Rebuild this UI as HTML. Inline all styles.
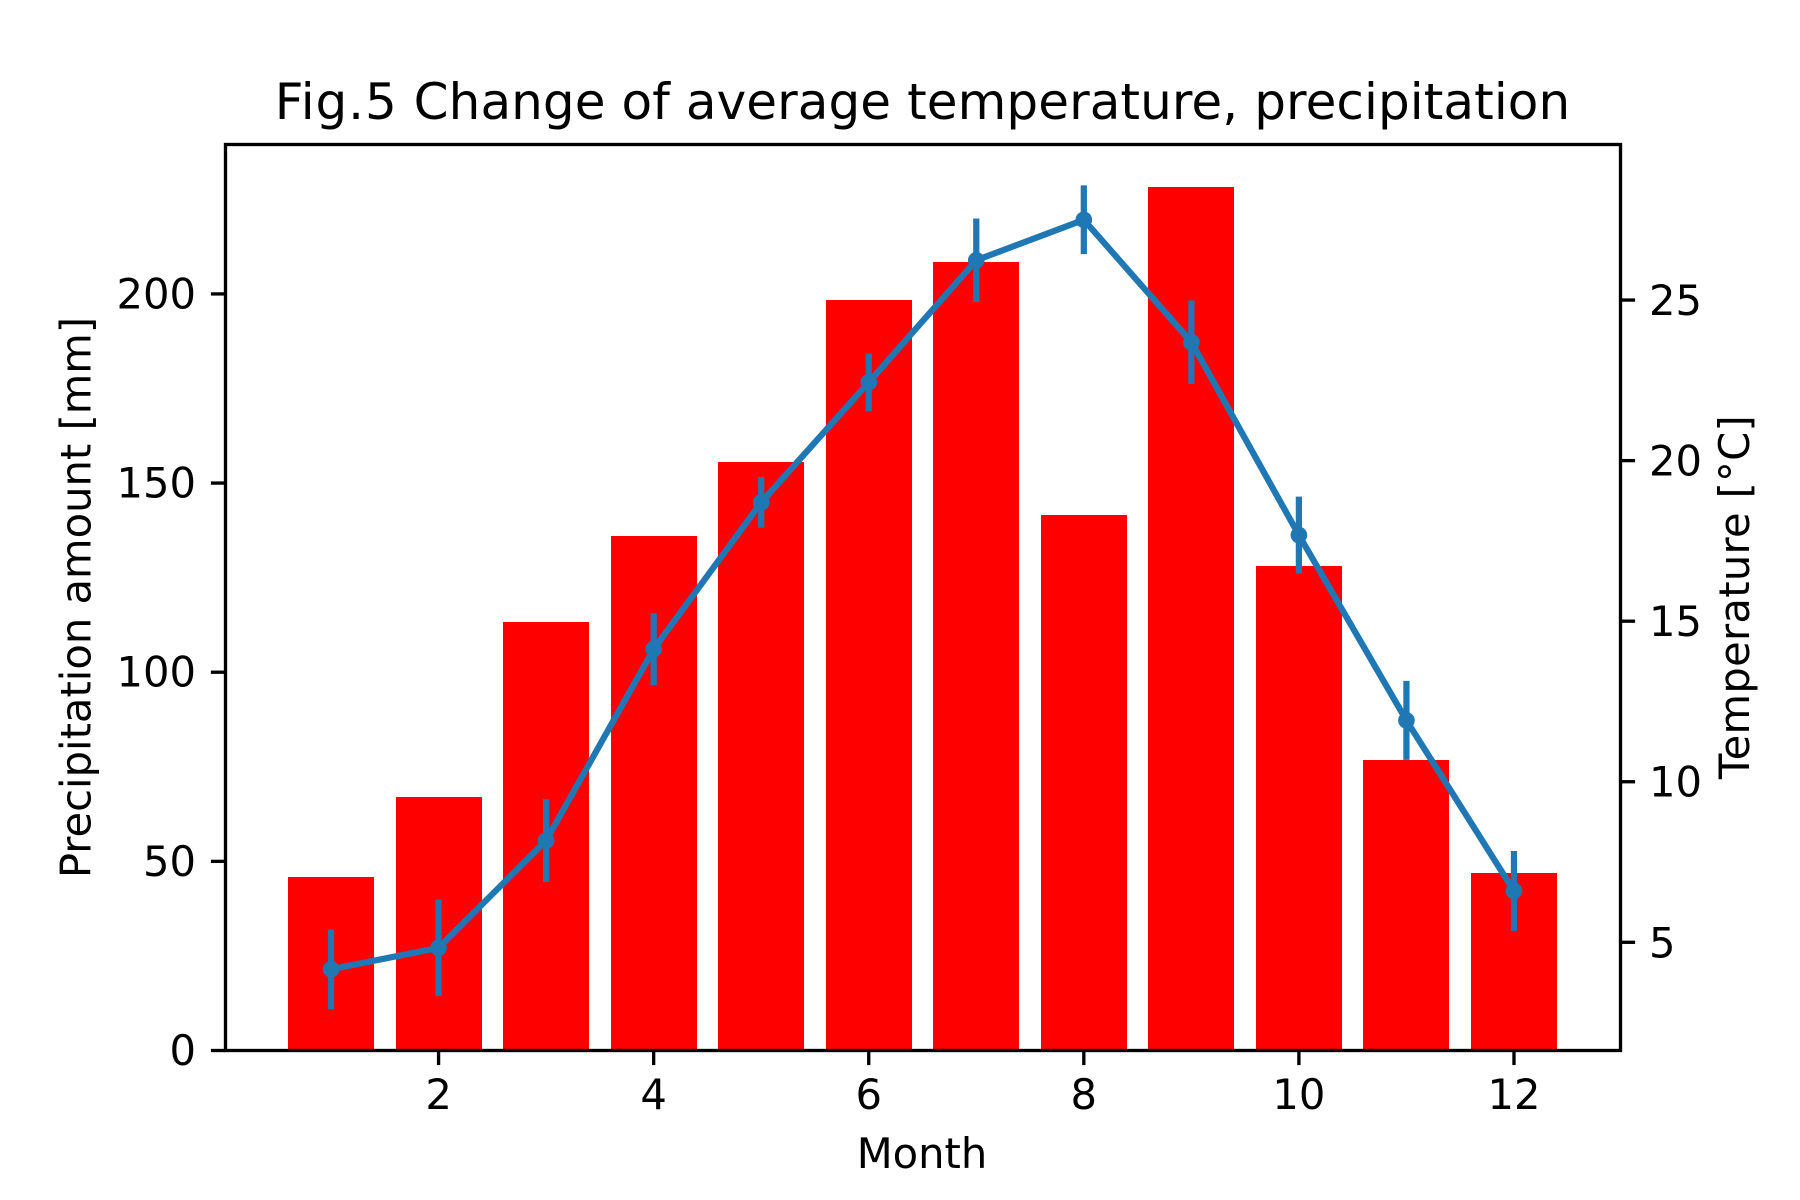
<!DOCTYPE html>
<html lang="en">
<head>
<meta charset="utf-8">
<title>Fig.5 Change of average temperature, precipitation</title>
<style>
  html, body { margin: 0; padding: 0; background: #fff; }
  svg { display: block; }
  text { font-family: "DejaVu Sans", "Liberation Sans", sans-serif; fill: #000; }
</style>
</head>
<body>
<svg id="chart" xmlns="http://www.w3.org/2000/svg" width="1800" height="1200" viewBox="0 0 1800 1200">
  <rect x="0" y="0" width="1800" height="1200" fill="#fff"/>
  <g id="bars"></g>
  <g id="errors"></g>
  <path id="line" fill="none" stroke="#1f77b4" stroke-width="6.25" stroke-linejoin="round"/>
  <g id="markers"></g>
  <rect x="225.5" y="144.5" width="1395" height="906" fill="none" stroke="#000" stroke-width="3.33"/>
  <g id="x-ticks"></g>
  <g id="left-ticks"></g>
  <g id="right-ticks"></g>
  <text x="922.5" y="119" font-size="50" text-anchor="middle"><tspan letter-spacing="0.9">Fig.5</tspan><tspan letter-spacing="0.08"> Change of average temperature, precipitation</tspan></text>
  <text x="922" y="1168" font-size="41.67" text-anchor="middle">Month</text>
  <text transform="translate(90.5,597.5) rotate(-90)" font-size="41.67" text-anchor="middle">Precipitation amount [mm]</text>
  <text transform="translate(1749,597) rotate(-90)" font-size="41.67" text-anchor="middle" letter-spacing="0.29">Temperature [°C]</text>
</svg>
<script>
const months = [1, 2, 3, 4, 5, 6, 7, 8, 9, 10, 11, 12];
const precipitation = [45.7, 66.9, 113.1, 135.9, 155.4, 198.3, 208.3, 141.4, 228.1, 127.9, 76.7, 46.8];
const temperature = [4.16, 4.83, 8.17, 14.13, 18.7, 22.44, 26.24, 27.5, 23.69, 17.68, 11.91, 6.6];
const temperatureError = [1.24, 1.5, 1.29, 1.12, 0.79, 0.9, 1.3, 1.07, 1.3, 1.2, 1.23, 1.245];
const xTickLabels = [2, 4, 6, 8, 10, 12];
const leftTickLabels = [0, 50, 100, 150, 200];
const rightTickLabels = [5, 10, 15, 20, 25];
const xDomain = [0.01399, 12.98591];
const leftDomain = [0, 239.5];
const rightDomain = [1.646, 29.86];
const barWidth = 0.8;

const NS = 'http://www.w3.org/2000/svg';
const plot = { left: 225, right: 1620, top: 144, bottom: 1050 };

function xScale(v) {
  return plot.left + (v - xDomain[0]) / (xDomain[1] - xDomain[0]) * (plot.right - plot.left);
}
function leftScale(v) {
  return plot.bottom - (v - leftDomain[0]) / (leftDomain[1] - leftDomain[0]) * (plot.bottom - plot.top);
}
function rightScale(v) {
  return plot.bottom - (v - rightDomain[0]) / (rightDomain[1] - rightDomain[0]) * (plot.bottom - plot.top);
}
function make(tag, parentId) {
  const el = document.createElementNS(NS, tag);
  document.getElementById(parentId).appendChild(el);
  return el;
}
function tickLine(parentId, x1, y1, x2, y2) {
  const el = make('line', parentId);
  el.setAttribute('x1', x1);
  el.setAttribute('y1', y1);
  el.setAttribute('x2', x2);
  el.setAttribute('y2', y2);
  el.setAttribute('stroke', '#000');
  el.setAttribute('stroke-width', '3.33');
  return el;
}
function tickText(parentId, x, y, anchor, label) {
  const el = make('text', parentId);
  el.setAttribute('x', x);
  el.setAttribute('y', y);
  el.setAttribute('font-size', '41.67');
  el.setAttribute('text-anchor', anchor);
  el.textContent = label;
  return el;
}

months.forEach(function (m, i) {
  const rect = make('rect', 'bars');
  const x0 = Math.round(xScale(m - barWidth / 2));
  const x1 = Math.round(xScale(m + barWidth / 2));
  const top = Math.round(leftScale(precipitation[i]));
  rect.setAttribute('x', x0);
  rect.setAttribute('y', top);
  rect.setAttribute('width', x1 - x0);
  rect.setAttribute('height', leftScale(0) - top);
  rect.setAttribute('fill', '#ff0000');
  
  

  const err = make('line', 'errors');
  err.setAttribute('x1', xScale(m));
  err.setAttribute('x2', xScale(m));
  err.setAttribute('y1', rightScale(temperature[i] - temperatureError[i]));
  err.setAttribute('y2', rightScale(temperature[i] + temperatureError[i]));
  err.setAttribute('stroke', '#1f77b4');
  err.setAttribute('stroke-width', '6.25');
  
  

  const dot = make('circle', 'markers');
  dot.setAttribute('cx', xScale(m));
  dot.setAttribute('cy', rightScale(temperature[i]));
  dot.setAttribute('r', '8.33');
  dot.setAttribute('fill', '#1f77b4');
  
  
});

document.getElementById('line').setAttribute('d', months.map(function (m, i) {
  return (i ? 'L' : 'M') + xScale(m).toFixed(2) + ' ' + rightScale(temperature[i]).toFixed(2);
}).join(' '));

xTickLabels.forEach(function (v) {
  const x = xScale(v);
  const mark = tickLine('x-ticks', x, 1050.5, x, 1065.1);
  
  
  const label = tickText('x-ticks', x, 1109, 'middle', v);
  
  
});

leftTickLabels.forEach(function (v) {
  const y = leftScale(v) + 0.5;
  const mark = tickLine('left-ticks', 225.5, y, 210.9, y);
  
  
  const label = tickText('left-ticks', 196, y + 14.5, 'end', v);
  
  
});

rightTickLabels.forEach(function (v) {
  const y = rightScale(v);
  const mark = tickLine('right-ticks', 1620.5, y, 1635.1, y);
  
  
  const label = tickText('right-ticks', 1649, y + 15, 'start', v);
  
  
});
</script>
</body>
</html>
